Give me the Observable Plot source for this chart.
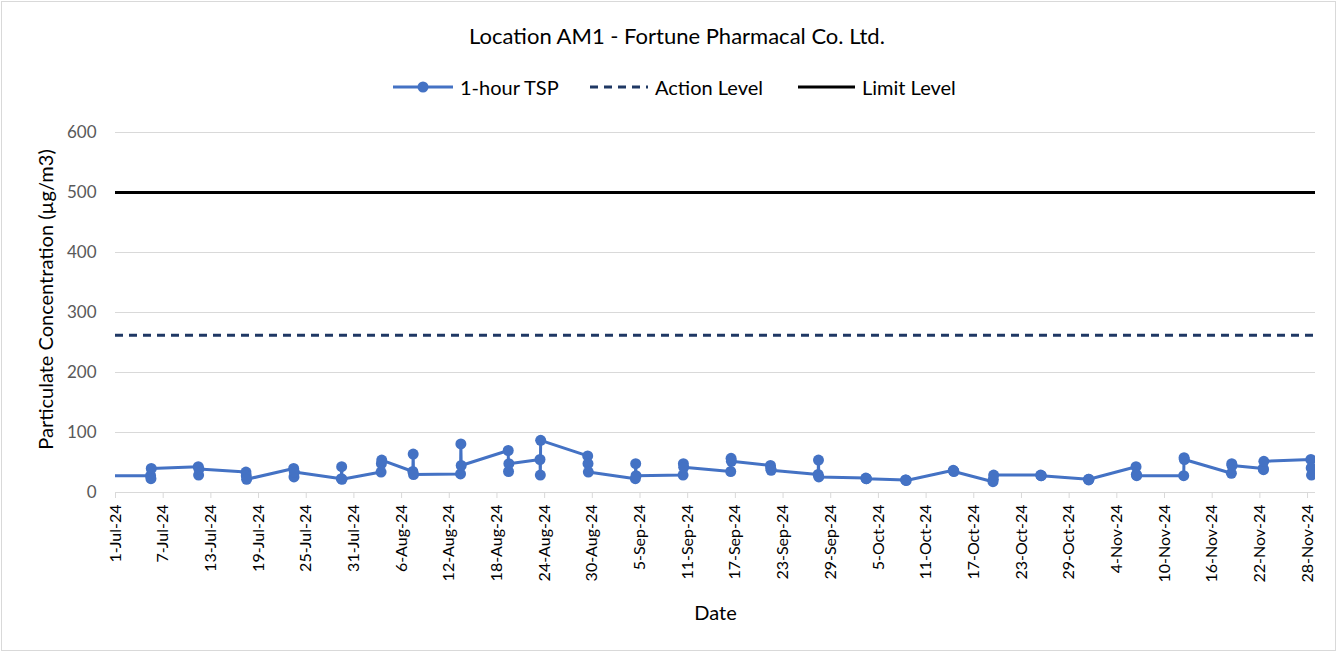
<!DOCTYPE html>
<html>
<head>
<meta charset="utf-8">
<script src="https://cdn.jsdelivr.net/npm/d3@7"></script>
<script src="https://cdn.jsdelivr.net/npm/@observablehq/plot@0.6"></script>
<style>
  body { margin: 0; background: #fff; font-family: Lato, "Open Sans", sans-serif; }
  #wrap { position: relative; width: 1338px; height: 653px; overflow: hidden; background: #fff; }
  #frame { position: absolute; left: 1px; top: 1px; width: 1335px; height: 650px; border: 1px solid #d9d9d9; box-sizing: border-box; pointer-events: none; }
  #chart { position: absolute; left: 0; top: 0; }
  #title { position: absolute; top: 22px; left: 0; width: 1354px; text-align: center; font-size: 22px; color: #000; }
  .leg { position: absolute; top: 75px; font-size: 20px; color: #000; display: flex; align-items: center; white-space: nowrap; }
  .leg svg { margin-right: 7px; }
</style>
</head>
<body>
<div id="wrap">
  <div id="chart"></div>
  <div id="title">Location AM1 - Fortune Pharmacal Co. Ltd.</div>
  <div class="leg" style="left:393px"><svg width="60" height="14"><line x1="0" y1="7" x2="60" y2="7" stroke="#4472C4" stroke-width="3"/><circle cx="30" cy="7" r="5.5" fill="#4472C4"/></svg>1-hour TSP</div>
  <div class="leg" style="left:590px"><svg width="58" height="14"><line x1="0" y1="7" x2="58" y2="7" stroke="#1F3864" stroke-width="3" stroke-dasharray="8,6"/></svg>Action Level</div>
  <div class="leg" style="left:798px"><svg width="57" height="14"><line x1="0" y1="7" x2="57" y2="7" stroke="#000" stroke-width="3"/></svg>Limit Level</div>
  <div id="frame"></div>
</div>
<script>
// Sampling dates (every ~6 days); 29-Jun point lies left of the axis and is clipped
const sampleDates = ["2024-06-29","2024-07-05","2024-07-11","2024-07-17","2024-07-23","2024-07-29",
  "2024-08-03","2024-08-07","2024-08-13","2024-08-19","2024-08-23","2024-08-29",
  "2024-09-04","2024-09-10","2024-09-16","2024-09-21","2024-09-27",
  "2024-10-03","2024-10-08","2024-10-14","2024-10-19","2024-10-25","2024-10-31",
  "2024-11-06","2024-11-12","2024-11-18","2024-11-22","2024-11-28"];
const sampleHours = ["10:00","11:00","12:00"];
// 1-hour TSP readings (µg/m3), one array per hourly reading
const reading1 = [28,28,43,34,40,23,34,35,31,70,55,61,23,29,35,45,30,24,21,37,18,29,22,43,28,32,40,55];
const reading2 = [28,23,29,28,26,43,48,64,81,35,29,48,48,48,57,40,54,23,21,36,22,28,21,30,58,48,38,41];
const reading3 = [28,40,39,22,34,22,54,30,45,48,87,34,28,42,52,37,26,23,20,35,29,28,22,28,55,45,52,29];
const actionLevel = 262;
const limitLevel = 500;
const axisStart = "2024-07-01";
const axisEnd = "2024-11-29";
const yTicks = [0,100,200,300,400,500,600];

const readings = [reading1, reading2, reading3];
const data = [];
sampleDates.forEach((d, i) => {
  sampleHours.forEach((h, j) => {
    data.push({time: new Date(d + "T" + h + ":00Z"), value: readings[j][i]});
  });
});
const start = new Date(axisStart + "T00:00:00Z");
const end = new Date(axisEnd + "T00:00:00Z");
const xTicks = d3.utcDay.every(1).range(start, new Date("2024-11-28T12:00:00Z")).filter((d, i) => i % 6 === 0);

const chart = Plot.plot({
  width: 1338,
  height: 653,
  marginTop: 132,
  marginBottom: 161,
  marginLeft: 115,
  marginRight: 23,
  style: {fontFamily: "Lato, 'Open Sans', sans-serif", background: "transparent"},
  x: {type: "utc", domain: [start, end]},
  y: {domain: [0, 600]},
  marks: [
    Plot.gridY(yTicks.filter(t => t > 0), {stroke: "#d9d9d9", strokeOpacity: 1, strokeWidth: 1}),
    Plot.ruleY([0], {stroke: "#d9d9d9", strokeWidth: 1}),
    Plot.axisY({ticks: yTicks, tickSize: 0, tickPadding: 19, fontSize: 17, fill: "#595959", label: null}),
    Plot.axisX({ticks: xTicks, tickFormat: d3.utcFormat("%-d-%b-%y"), tickRotate: -90, tickSize: 6, tickPadding: 6,
      fontSize: 16, stroke: "#d9d9d9", fill: "#000", label: null}),
    Plot.ruleY([limitLevel], {stroke: "#000", strokeWidth: 3}),
    Plot.ruleY([actionLevel], {stroke: "#1F3864", strokeWidth: 3, strokeDasharray: "8,6"}),
    Plot.line(data, {x: "time", y: "value", stroke: "#4472C4", strokeWidth: 3, clip: true}),
    Plot.dot(data, {x: "time", y: "value", r: 5.5, fill: "#4472C4", clip: true}),
    Plot.text(["Particulate Concentration (µg/m3)"], {frameAnchor: "left", textAnchor: "middle", dx: -69, dy: -13, rotate: -90, fontSize: 20, fill: "#000"}),
    Plot.text(["Date"], {frameAnchor: "bottom", lineAnchor: "middle", dy: 121, fontSize: 20, fill: "#000"})
  ]
});
document.getElementById("chart").appendChild(chart);
</script>
</body>
</html>
